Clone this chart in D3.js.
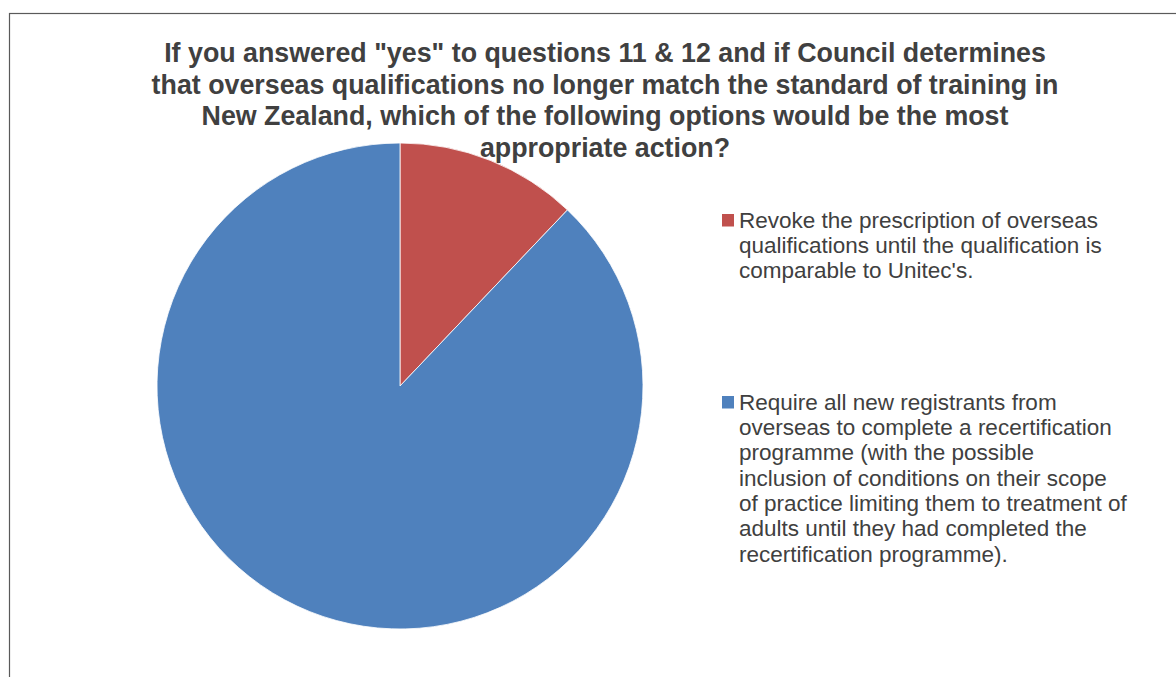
<!DOCTYPE html>
<html>
<head>
<meta charset="utf-8">
<script src="https://cdn.jsdelivr.net/npm/d3@7"></script>
<style>
  html, body { margin: 0; padding: 0; background: #fff; }
  svg { display: block; }
</style>
</head>
<body>
<svg id="chart" width="1176" height="677"></svg>
<script>
// Survey response shares (percent of respondents)
const categories = ["Revoke", "Require"];
const values = [12.1, 87.9];
const colors = ["#C0504D", "#4F81BD"];

const titleLines = [
  "If you answered \"yes\" to questions 11 & 12 and if Council determines",
  "that overseas qualifications no longer match the standard of training in",
  "New Zealand, which of the following options would be the most",
  "appropriate action?"
];

const legendLines = [
  ["Revoke the prescription of overseas",
   "qualifications until the qualification is",
   "comparable to Unitec's."],
  ["Require all new registrants from",
   "overseas to complete a recertification",
   "programme (with the possible",
   "inclusion of conditions on their scope",
   "of practice limiting them to treatment of",
   "adults until they had completed the",
   "recertification programme)."]
];

const svg = d3.select("#chart");
const font = "'Liberation Sans', Arial, sans-serif";

// Chart area border (runs off the right and bottom edges)
svg.append("rect")
  .attr("x", 9.5).attr("y", 13.5)
  .attr("width", 1200).attr("height", 700)
  .attr("fill", "none")
  .attr("stroke", "#5a5a5a")
  .attr("stroke-width", 1.2);

// Title
const title = svg.append("text")
  .attr("font-family", font)
  .attr("font-weight", "bold")
  .attr("font-size", 26.8)
  .attr("fill", "#404040")
  .attr("text-anchor", "middle");
title.selectAll("tspan")
  .data(titleLines)
  .join("tspan")
  .attr("x", 605)
  .attr("y", (d, i) => 62 + i * 31.5)
  .text(d => d);

// Pie
const cx = 400, cy = 386, r = 243;
const pie = d3.pie().sort(null).value(d => d)(values);
const arc = d3.arc().innerRadius(0).outerRadius(r);
const color = d3.scaleOrdinal().domain(categories).range(colors);

svg.append("g")
  .attr("transform", `translate(${cx},${cy})`)
  .selectAll("path")
  .data(pie)
  .join("path")
  .attr("d", arc)
  .attr("fill", (d, i) => color(categories[i]))
  .attr("stroke", "#ffffff")
  .attr("stroke-width", 0.8);

// Legend
const legendTop = [220, 402];
const lineH = 25.3;
const lg = svg.append("g");
legendLines.forEach((lines, i) => {
  lg.append("rect")
    .attr("x", 722).attr("y", legendTop[i] - 6)
    .attr("width", 12).attr("height", 12.5)
    .attr("fill", color(categories[i]));
  const t = lg.append("text")
    .attr("font-family", font)
    .attr("font-size", 22.5)
    .attr("fill", "#404040");
  t.selectAll("tspan")
    .data(lines)
    .join("tspan")
    .attr("x", 739)
    .attr("y", (d, j) => legendTop[i] + 7.8 + j * lineH)
    .text(d => d);
});
</script>
</body>
</html>
